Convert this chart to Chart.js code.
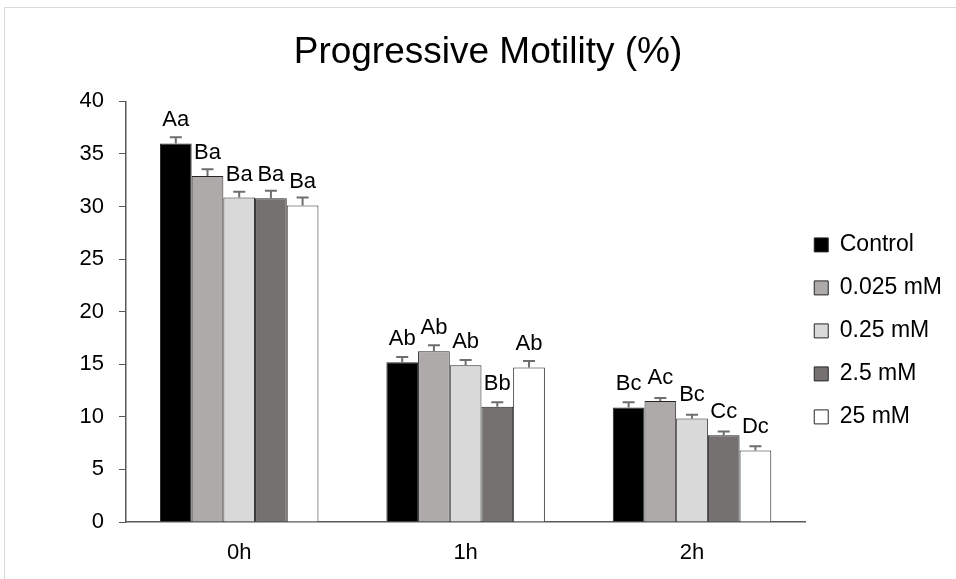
<!DOCTYPE html>
<html>
<head>
<meta charset="utf-8">
<script src="https://cdn.jsdelivr.net/npm/chart.js@4.4.1/dist/chart.umd.min.js"></script>
<style>
  html, body { margin: 0; padding: 0; background: #fff; overflow: hidden; }
  #frame { position: absolute; left: 4px; top: 7px; width: 960px; height: 580px; border: 1px solid #d9d9d9; }
  #box { position: absolute; left: 0; top: 0; width: 951px; height: 571px; }
</style>
</head>
<body>
<div id="frame"><div id="box"><canvas id="myChart"></canvas></div></div>
<script>
var categories = ['0h', '1h', '2h'];
var seriesNames = ['Control', '0.025 mM', '0.25 mM', '2.5 mM', '25 mM'];

var control = [36.0, 15.2, 10.9];
var mM0025 = [32.9, 16.25, 11.5];
var mM025 = [30.85, 14.9, 9.85];
var mM25 = [30.8, 10.95, 8.25];
var mM250 = [30.1, 14.7, 6.8];

var errControl = [0.6, 0.5, 0.5];
var err0025 = [0.65, 0.55, 0.3];
var err025 = [0.55, 0.5, 0.35];
var err25 = [0.7, 0.45, 0.35];
var err250 = [0.75, 0.6, 0.4];

var letControl = ['Aa', 'Ab', 'Bc'];
var let0025 = ['Ba', 'Ab', 'Ac'];
var let025 = ['Ba', 'Ab', 'Bc'];
var let25 = ['Ba', 'Bb', 'Cc'];
var let250 = ['Ba', 'Ab', 'Dc'];

var yTicks = [0, 5, 10, 15, 20, 25, 30, 35, 40];

var colors = ['#000000', '#aeaaaa', '#d9d9d9', '#767171', '#ffffff'];
var values = [control, mM0025, mM025, mM25, mM250];
var errors = [errControl, err0025, err025, err25, err250];
var letters = [letControl, let0025, let025, let25, let250];

var FONT = '"Liberation Sans", Arial, sans-serif';

var datasets = seriesNames.map(function(name, i) {
  return {
    label: name,
    data: values[i],
    backgroundColor: colors[i],
    borderColor: '#262626',
    borderWidth: 1,
    errors: errors[i],
    letters: letters[i]
  };
});

// error bars (plus only) and the letter labels above each bar
var extras = {
  id: 'extras',
  afterDatasetsDraw: function(chart) {
    var ctx = chart.ctx;
    var yScale = chart.scales.y;
    ctx.save();
    chart.data.datasets.forEach(function(ds, i) {
      var meta = chart.getDatasetMeta(i);
      meta.data.forEach(function(bar, j) {
        var v = ds.data[j];
        var top = yScale.getPixelForValue(v + ds.errors[j]);
        ctx.strokeStyle = '#6e6e6e';
        ctx.lineWidth = 2;
        ctx.beginPath();
        ctx.moveTo(bar.x, bar.y);
        ctx.lineTo(bar.x, top);
        ctx.moveTo(bar.x - 6, top);
        ctx.lineTo(bar.x + 6, top);
        ctx.stroke();
        ctx.fillStyle = '#000';
        ctx.font = '22px ' + FONT;
        ctx.textAlign = 'center';
        ctx.textBaseline = 'alphabetic';
        ctx.fillText(ds.letters[j], bar.x, bar.y - 17);
      });
    });
    ctx.restore();
  }
};

// move the legend next to the plot, like the original
var legendPlace = {
  id: 'legendPlace',
  afterLayout: function(chart) {
    var lg = chart.legend;
    var h = lg.bottom - lg.top;
    lg.left -= 11;
    lg.right -= 11;
    lg.top = chart.chartArea.top + 112;
    lg.bottom = lg.top + h;
  }
};

var ctx = document.getElementById('myChart').getContext('2d');
var myChart = new Chart(ctx, {
  type: 'bar',
  data: { labels: categories, datasets: datasets },
  plugins: [extras, legendPlace],
  options: {
    responsive: true,
    maintainAspectRatio: false,
    animation: false,
    layout: { padding: { left: 8, right: -7, top: 0, bottom: 0 } },
    datasets: { bar: { categoryPercentage: 0.7, barPercentage: 1.0 } },
    plugins: {
      tooltip: { enabled: false },
      title: {
        display: true,
        text: 'Progressive Motility (%)',
        color: '#000',
        font: { family: FONT, size: 37, weight: 'normal' },
        padding: { top: 23, bottom: 26 }
      },
      legend: {
        position: 'right',
        align: 'start',
        labels: {
          color: '#000',
          font: { family: FONT, size: 23 },
          boxWidth: 14,
          boxHeight: 14,
          padding: 20
        }
      }
    },
    scales: {
      x: {
        grid: { display: false, drawTicks: false },
        border: { display: true, color: '#595959', width: 1.5 },
        ticks: { color: '#000', font: { family: FONT, size: 22 }, padding: 18 },
        afterFit: function(s) { s.height = 57; }
      },
      y: {
        min: 0,
        max: 40,
        afterBuildTicks: function(s) { s.ticks = yTicks.map(function(v) { return { value: v }; }); },
        grid: { drawOnChartArea: false, drawTicks: true, tickLength: 7, color: '#595959' },
        border: { display: true, color: '#595959', width: 1.5 },
        ticks: { color: '#000', font: { family: FONT, size: 22 }, padding: 15 },
        afterFit: function(s) { s.width = 113; }
      }
    }
  }
});
</script>
</body>
</html>
